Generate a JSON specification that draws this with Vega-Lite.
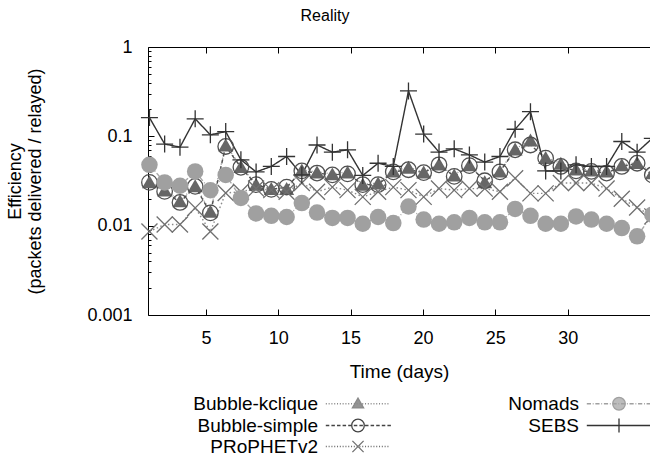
{
"$schema": "https://vega.github.io/schema/vega-lite/v6.json",
"width": 502, "height": 268,
"autosize": {"type": "none"},
"padding": {"left": 148, "top": 47, "right": 0, "bottom": 145},
"background": "white",
"config": {"view": {"stroke": null}, "font": "Liberation Sans", "legend": {"padding": 0, "offset": 0}},
"title": {"text": "Reality", "fontSize": 16, "fontWeight": "normal", "anchor": "middle", "dx": -74, "offset": 14, "color": "black", "font": "Liberation Sans"},
"data": {"values": [
{"s":"Bubble-kclique","d":1.10,"v":0.031},{"s":"Bubble-kclique","d":2.15,"v":0.025},{"s":"Bubble-kclique","d":3.21,"v":0.019},{"s":"Bubble-kclique","d":4.26,"v":0.028},{"s":"Bubble-kclique","d":5.31,"v":0.0145},{"s":"Bubble-kclique","d":6.37,"v":0.080},{"s":"Bubble-kclique","d":7.42,"v":0.046},{"s":"Bubble-kclique","d":8.47,"v":0.029},{"s":"Bubble-kclique","d":9.52,"v":0.026},{"s":"Bubble-kclique","d":10.58,"v":0.026},{"s":"Bubble-kclique","d":11.63,"v":0.042},{"s":"Bubble-kclique","d":12.68,"v":0.040},{"s":"Bubble-kclique","d":13.74,"v":0.038},{"s":"Bubble-kclique","d":14.79,"v":0.040},{"s":"Bubble-kclique","d":15.84,"v":0.029},{"s":"Bubble-kclique","d":16.90,"v":0.030},{"s":"Bubble-kclique","d":17.95,"v":0.041},{"s":"Bubble-kclique","d":19.00,"v":0.045},{"s":"Bubble-kclique","d":20.05,"v":0.040},{"s":"Bubble-kclique","d":21.11,"v":0.049},{"s":"Bubble-kclique","d":22.16,"v":0.037},{"s":"Bubble-kclique","d":23.21,"v":0.048},{"s":"Bubble-kclique","d":24.27,"v":0.031},{"s":"Bubble-kclique","d":25.32,"v":0.041},{"s":"Bubble-kclique","d":26.37,"v":0.072},{"s":"Bubble-kclique","d":27.43,"v":0.091},{"s":"Bubble-kclique","d":28.48,"v":0.058},{"s":"Bubble-kclique","d":29.53,"v":0.050},{"s":"Bubble-kclique","d":30.58,"v":0.043},{"s":"Bubble-kclique","d":31.64,"v":0.042},{"s":"Bubble-kclique","d":32.69,"v":0.041},{"s":"Bubble-kclique","d":33.74,"v":0.048},{"s":"Bubble-kclique","d":34.80,"v":0.051},{"s":"Bubble-kclique","d":35.85,"v":0.039},
{"s":"Bubble-simple","d":1.10,"v":0.0305},{"s":"Bubble-simple","d":2.15,"v":0.0242},{"s":"Bubble-simple","d":3.21,"v":0.0182},{"s":"Bubble-simple","d":4.26,"v":0.0275},{"s":"Bubble-simple","d":5.31,"v":0.0139},{"s":"Bubble-simple","d":6.37,"v":0.077},{"s":"Bubble-simple","d":7.42,"v":0.045},{"s":"Bubble-simple","d":8.47,"v":0.0288},{"s":"Bubble-simple","d":9.52,"v":0.0255},{"s":"Bubble-simple","d":10.58,"v":0.027},{"s":"Bubble-simple","d":11.63,"v":0.041},{"s":"Bubble-simple","d":12.68,"v":0.0388},{"s":"Bubble-simple","d":13.74,"v":0.037},{"s":"Bubble-simple","d":14.79,"v":0.038},{"s":"Bubble-simple","d":15.84,"v":0.0288},{"s":"Bubble-simple","d":16.90,"v":0.0288},{"s":"Bubble-simple","d":17.95,"v":0.040},{"s":"Bubble-simple","d":19.00,"v":0.0423},{"s":"Bubble-simple","d":20.05,"v":0.0392},{"s":"Bubble-simple","d":21.11,"v":0.048},{"s":"Bubble-simple","d":22.16,"v":0.0356},{"s":"Bubble-simple","d":23.21,"v":0.047},{"s":"Bubble-simple","d":24.27,"v":0.0318},{"s":"Bubble-simple","d":25.32,"v":0.040},{"s":"Bubble-simple","d":26.37,"v":0.0707},{"s":"Bubble-simple","d":27.43,"v":0.080},{"s":"Bubble-simple","d":28.48,"v":0.057},{"s":"Bubble-simple","d":29.53,"v":0.046},{"s":"Bubble-simple","d":30.58,"v":0.041},{"s":"Bubble-simple","d":31.64,"v":0.0405},{"s":"Bubble-simple","d":32.69,"v":0.0388},{"s":"Bubble-simple","d":33.74,"v":0.046},{"s":"Bubble-simple","d":34.80,"v":0.050},{"s":"Bubble-simple","d":35.85,"v":0.037},
{"s":"PRoPHETv2","d":1.10,"v":0.0086},{"s":"PRoPHETv2","d":2.15,"v":0.0103},{"s":"PRoPHETv2","d":3.21,"v":0.0103},{"s":"PRoPHETv2","d":4.26,"v":0.0158},{"s":"PRoPHETv2","d":5.31,"v":0.0086},{"s":"PRoPHETv2","d":6.37,"v":0.0232},{"s":"PRoPHETv2","d":7.42,"v":0.024},{"s":"PRoPHETv2","d":8.47,"v":0.026},{"s":"PRoPHETv2","d":9.52,"v":0.025},{"s":"PRoPHETv2","d":10.58,"v":0.024},{"s":"PRoPHETv2","d":11.63,"v":0.030},{"s":"PRoPHETv2","d":12.68,"v":0.024},{"s":"PRoPHETv2","d":13.74,"v":0.027},{"s":"PRoPHETv2","d":14.79,"v":0.025},{"s":"PRoPHETv2","d":15.84,"v":0.021},{"s":"PRoPHETv2","d":16.90,"v":0.024},{"s":"PRoPHETv2","d":17.95,"v":0.027},{"s":"PRoPHETv2","d":19.00,"v":0.025},{"s":"PRoPHETv2","d":20.05,"v":0.021},{"s":"PRoPHETv2","d":21.11,"v":0.026},{"s":"PRoPHETv2","d":22.16,"v":0.025},{"s":"PRoPHETv2","d":23.21,"v":0.026},{"s":"PRoPHETv2","d":24.27,"v":0.026},{"s":"PRoPHETv2","d":25.32,"v":0.024},{"s":"PRoPHETv2","d":26.37,"v":0.034},{"s":"PRoPHETv2","d":27.43,"v":0.023},{"s":"PRoPHETv2","d":28.48,"v":0.023},{"s":"PRoPHETv2","d":29.53,"v":0.030},{"s":"PRoPHETv2","d":30.58,"v":0.030},{"s":"PRoPHETv2","d":31.64,"v":0.030},{"s":"PRoPHETv2","d":32.69,"v":0.026},{"s":"PRoPHETv2","d":33.74,"v":0.020},{"s":"PRoPHETv2","d":34.80,"v":0.016},{"s":"PRoPHETv2","d":35.85,"v":0.0127},
{"s":"Nomads","d":1.10,"v":0.048},{"s":"Nomads","d":2.15,"v":0.0305},{"s":"Nomads","d":3.21,"v":0.028},{"s":"Nomads","d":4.26,"v":0.0405},{"s":"Nomads","d":5.31,"v":0.0249},{"s":"Nomads","d":6.37,"v":0.037},{"s":"Nomads","d":7.42,"v":0.0204},{"s":"Nomads","d":8.47,"v":0.0137},{"s":"Nomads","d":9.52,"v":0.0129},{"s":"Nomads","d":10.58,"v":0.0125},{"s":"Nomads","d":11.63,"v":0.0179},{"s":"Nomads","d":12.68,"v":0.0140},{"s":"Nomads","d":13.74,"v":0.0122},{"s":"Nomads","d":14.79,"v":0.0122},{"s":"Nomads","d":15.84,"v":0.0105},{"s":"Nomads","d":16.90,"v":0.0125},{"s":"Nomads","d":17.95,"v":0.0107},{"s":"Nomads","d":19.00,"v":0.0164},{"s":"Nomads","d":20.05,"v":0.0117},{"s":"Nomads","d":21.11,"v":0.0105},{"s":"Nomads","d":22.16,"v":0.0109},{"s":"Nomads","d":23.21,"v":0.0122},{"s":"Nomads","d":24.27,"v":0.0109},{"s":"Nomads","d":25.32,"v":0.0109},{"s":"Nomads","d":26.37,"v":0.0154},{"s":"Nomads","d":27.43,"v":0.0129},{"s":"Nomads","d":28.48,"v":0.0105},{"s":"Nomads","d":29.53,"v":0.0105},{"s":"Nomads","d":30.58,"v":0.0127},{"s":"Nomads","d":31.64,"v":0.0117},{"s":"Nomads","d":32.69,"v":0.0105},{"s":"Nomads","d":33.74,"v":0.0094},{"s":"Nomads","d":34.80,"v":0.0076},{"s":"Nomads","d":35.85,"v":0.0133},
{"s":"SEBS","d":1.10,"v":0.162},{"s":"SEBS","d":2.15,"v":0.082},{"s":"SEBS","d":3.21,"v":0.0757},{"s":"SEBS","d":4.26,"v":0.157},{"s":"SEBS","d":5.31,"v":0.104},{"s":"SEBS","d":6.37,"v":0.113},{"s":"SEBS","d":7.42,"v":0.0546},{"s":"SEBS","d":8.47,"v":0.040},{"s":"SEBS","d":9.52,"v":0.046},{"s":"SEBS","d":10.58,"v":0.0595},{"s":"SEBS","d":11.63,"v":0.037},{"s":"SEBS","d":12.68,"v":0.080},{"s":"SEBS","d":13.74,"v":0.0665},{"s":"SEBS","d":14.79,"v":0.0707},{"s":"SEBS","d":15.84,"v":0.0365},{"s":"SEBS","d":16.90,"v":0.050},{"s":"SEBS","d":17.95,"v":0.046},{"s":"SEBS","d":19.00,"v":0.322},{"s":"SEBS","d":20.05,"v":0.106},{"s":"SEBS","d":21.11,"v":0.0666},{"s":"SEBS","d":22.16,"v":0.0725},{"s":"SEBS","d":23.21,"v":0.062},{"s":"SEBS","d":24.27,"v":0.0515},{"s":"SEBS","d":25.32,"v":0.0595},{"s":"SEBS","d":26.37,"v":0.12},{"s":"SEBS","d":27.43,"v":0.189},{"s":"SEBS","d":28.48,"v":0.041},{"s":"SEBS","d":29.53,"v":0.041},{"s":"SEBS","d":30.58,"v":0.048},{"s":"SEBS","d":31.64,"v":0.046},{"s":"SEBS","d":32.69,"v":0.046},{"s":"SEBS","d":33.74,"v":0.0875},{"s":"SEBS","d":34.80,"v":0.0665},{"s":"SEBS","d":35.85,"v":0.095}
]},
"layer": [
{"mark": {"type": "line", "strokeWidth": 1.4},
 "encoding": {
  "x": {"field": "d", "type": "quantitative", "scale": {"domain": [1, 35.69], "nice": false, "zero": false},
        "axis": {"orient": "bottom", "values": [5,10,15,20,25,30], "tickSize": -6, "tickColor": "black", "domainColor": "black", "grid": false, "labelFontSize": 18, "labelColor": "black", "labelPadding": 20, "title": "Time (days)", "titleFontSize": 19, "titleFontWeight": "normal", "titleColor": "black", "titlePadding": 15}},
  "y": {"field": "v", "type": "quantitative", "scale": {"type": "log", "domain": [0.001, 1], "nice": false},
        "axis": {"orient": "left", "values": [0.001,0.002,0.003,0.004,0.005,0.006,0.007,0.008,0.009,0.01,0.02,0.03,0.04,0.05,0.06,0.07,0.08,0.09,0.1,0.2,0.3,0.4,0.5,0.6,0.7,0.8,0.9,1],
                 "format": "~g",
                 "labelExpr": "abs(log(datum.value)/LN10 - round(log(datum.value)/LN10)) < 0.001 ? datum.label : ''",
                 "tickSize": {"condition": {"test": "abs(log(datum.value)/LN10 - round(log(datum.value)/LN10)) < 0.001", "value": -6}, "value": -3},
                 "tickColor": "black", "domainColor": "black", "grid": false, "labelFontSize": 18, "labelColor": "black", "labelPadding": 22,
                 "title": ["Efficiency", "(packets delivered / relayed)"], "titleFontSize": 18, "titleFontWeight": "normal", "titleColor": "black", "titlePadding": 42}},
  "color": {"field": "s", "type": "nominal", "legend": null,
            "scale": {"domain": ["SEBS","Nomads","PRoPHETv2","Bubble-simple","Bubble-kclique"], "range": ["#333333","#a8a8a8","#8a8a8a","#505050","#9a9a9a"]}},
  "strokeDash": {"field": "s", "type": "nominal", "legend": null,
            "scale": {"domain": ["SEBS","Nomads","PRoPHETv2","Bubble-simple","Bubble-kclique"], "range": [[1,0],[6,2,1,2],[1.5,2.5],[4,3],[1,2]]}}
 }},
{"mark": {"type": "point", "filled": true, "strokeWidth": 1.3},
 "encoding": {
  "x": {"field": "d", "type": "quantitative",
        "axis": {"orient": "top", "values": [5,10,15,20,25,30], "labels": false, "tickSize": -6, "tickColor": "black", "domainColor": "black", "grid": false, "title": null}},
  "y": {"field": "v", "type": "quantitative"},
  "shape": {"field": "s", "type": "nominal", "legend": null,
            "scale": {"domain": ["Bubble-kclique","Nomads","Bubble-simple","SEBS","PRoPHETv2"], "range": ["triangle-up","circle","circle","M-1,0H1M0,-1V1","M-1,-1L1,1M-1,1L1,-1"]}},
  "opacity": {"field": "s", "type": "nominal",
            "scale": {"domain": ["Bubble-kclique","Bubble-simple","PRoPHETv2","Nomads","SEBS"], "range": [1,1,1,1,1]},
            "legend": {"orient": "none", "legendX": 210, "legendY": 347, "columns": 2, "title": null,
                       "symbolSize": 196, "labelFontSize": 19, "labelFont": "Liberation Sans", "labelColor": "black",
                       "rowPadding": 1, "columnPadding": 114, "symbolStrokeWidth": 1.3,
                       "encoding": {
                         "symbols": {
                           "shape": {"value": {"expr": "datum.value === 'Bubble-kclique' ? 'M-4.6,0h0.15m0.25,0h0.15m0.25,0h0.15m0.25,0h0.15m0.25,0h0.15m0.25,0h0.15m0.25,0h0.15m0.25,0h0.15m0.25,0h0.15m0.25,0h0.15m0.25,0h0.15m0.25,0h0.15m0.25,0h0.15m0.25,0h0.15m0.25,0h0.15m0.25,0h0.15m0.25,0h0.15m0.25,0h0.15m0.25,0h0.15m0.25,0h0.15m0.25,0h0.15m0.25,0h0.15m0.25,0h0.15M0,-0.8L0.8,0.6L-0.8,0.6Z' : datum.value === 'Bubble-simple' ? 'M-4.6,0h0.5m0.3,0h0.5m0.3,0h0.5m0.3,0h0.5m0.3,0h0.5m0.3,0h0.5m0.3,0h0.5m0.3,0h0.5m0.3,0h0.5m0.3,0h0.5m0.3,0h0.5m0.3,0h0.5M0.9,0A0.9,0.9 0 1,1 -0.9,0A0.9,0.9 0 1,1 0.9,0' : datum.value === 'PRoPHETv2' ? 'M-4.6,0h0.15m0.25,0h0.15m0.25,0h0.15m0.25,0h0.15m0.25,0h0.15m0.25,0h0.15m0.25,0h0.15m0.25,0h0.15m0.25,0h0.15m0.25,0h0.15m0.25,0h0.15m0.25,0h0.15m0.25,0h0.15m0.25,0h0.15m0.25,0h0.15m0.25,0h0.15m0.25,0h0.15m0.25,0h0.15m0.25,0h0.15m0.25,0h0.15m0.25,0h0.15m0.25,0h0.15m0.25,0h0.15M-0.8,-0.8L0.8,0.8M-0.8,0.8L0.8,-0.8' : datum.value === 'Nomads' ? 'M-4.6,0h0.6m0.25,0h0.12m0.25,0h0.6m0.25,0h0.12m0.25,0h0.6m0.25,0h0.12m0.25,0h0.6m0.25,0h0.12m0.25,0h0.6m0.25,0h0.12m0.25,0h0.6m0.25,0h0.12m0.25,0h0.6m0.25,0h0.12m0.25,0h0.6M0.9,0A0.9,0.9 0 1,1 -0.9,0A0.9,0.9 0 1,1 0.9,0' : 'M-4.6,0H4.6M0,-1V1'"}},
                           "stroke": {"value": {"expr": "datum.value === 'Bubble-kclique' ? '#8a8a8a' : datum.value === 'Bubble-simple' ? '#444444' : datum.value === 'PRoPHETv2' ? '#707070' : datum.value === 'Nomads' ? '#a0a0a0' : '#333333'"}},
                           "fill": {"value": {"expr": "datum.value === 'Bubble-kclique' ? '#666666' : datum.value === 'Nomads' ? '#a0a0a0' : 'transparent'"}},
                           "strokeWidth": {"value": 1.3},
                           "x": {"value": 0}
                         },
                         "labels": {"align": {"value": "right"}, "x": {"value": -40}}
                       }}},
  "fill": {"field": "s", "type": "nominal", "legend": null,
           "scale": {"domain": ["SEBS","Nomads","PRoPHETv2","Bubble-simple","Bubble-kclique"], "range": ["transparent","#a0a0a0","transparent","transparent","#666666"]}},
  "stroke": {"field": "s", "type": "nominal", "legend": null,
           "scale": {"domain": ["SEBS","Nomads","PRoPHETv2","Bubble-simple","Bubble-kclique"], "range": ["#333333","transparent","#707070","#505050","transparent"]}},
  "size": {"field": "s", "type": "nominal", "legend": null,
           "scale": {"domain": ["SEBS","Nomads","PRoPHETv2","Bubble-simple","Bubble-kclique"], "range": [289, 225, 196, 240, 110]}}
 }}
],
"resolve": {"axis": {"x": "independent"}}
}
